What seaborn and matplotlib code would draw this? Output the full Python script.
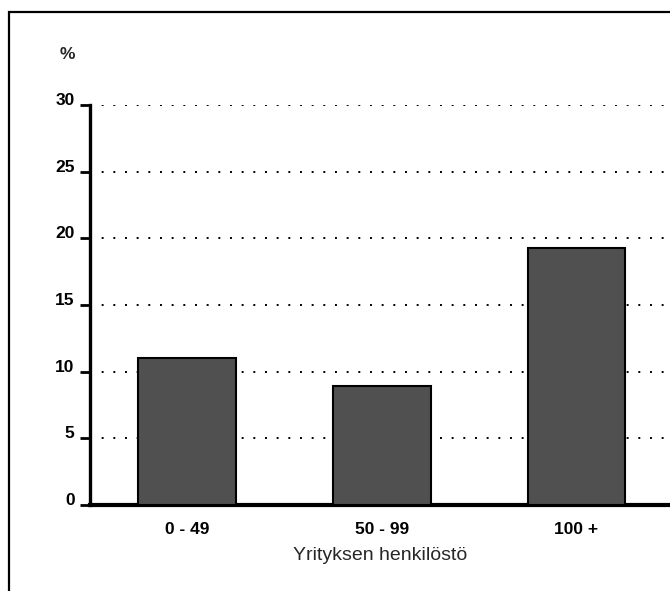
import matplotlib.pyplot as plt
import numpy as np
import pandas as pd
import seaborn as sns

# Share of firms by company size (%)
categories = ["0 - 49", "50 - 99", "100 +"]
values = [11.0, 8.9, 19.3]
y_ticks = [0, 5, 10, 15, 20, 25, 30]

df = pd.DataFrame({"size": categories, "pct": values})

sns.set_style("white")
plt.rcParams["font.family"] = ["Liberation Sans", "DejaVu Sans"]

fig = plt.figure(figsize=(6.7, 5.91), dpi=100)
ax = fig.add_axes([0.134, 0.1455, 0.866, 0.6768])

sns.barplot(
    data=df, x="size", y="pct", ax=ax, color="#505050",
    edgecolor="black", linewidth=1.5, width=0.5, zorder=3,
)

ax.set_xlim(-0.5, 2.48)
ax.set_ylim(0, 30)
ax.set_yticks(y_ticks)
ax.set_yticklabels([str(t) for t in y_ticks], fontsize=12.5, fontweight="bold",
                   va="baseline")
for lab in ax.get_xticklabels():
    lab.set_fontsize(12.5)
    lab.set_fontweight("bold")

# dotted horizontal grid behind bars
for t in y_ticks[1:]:
    ax.axhline(t, color="black", linestyle=(0, (1, 5)), linewidth=1.4, zorder=1)

for side in ["top", "right"]:
    ax.spines[side].set_visible(False)
ax.spines["left"].set_linewidth(2.4)
ax.spines["bottom"].set_linewidth(3)
ax.spines["left"].set_color("black")
ax.spines["bottom"].set_color("black")

ax.tick_params(axis="y", left=True, length=7, width=2, pad=4, colors="black")
ax.tick_params(axis="x", bottom=False, pad=9, colors="black")

ax.set_ylabel("")
ax.set_xlabel("Yrityksen henkilöstö", fontsize=14, labelpad=7)
ax.text(-0.038, 1.0 + 51 / 400, "%", fontsize=12.5, fontweight="bold", ha="center",
        va="center", transform=ax.transAxes, clip_on=False)

# outer frame of the scanned figure
fig.add_artist(plt.Rectangle((0.0134, -0.1), 1.2, 1.0797, transform=fig.transFigure,
                             fill=False, edgecolor="black", linewidth=1.6))

fig.savefig("out.png", dpi=100)
